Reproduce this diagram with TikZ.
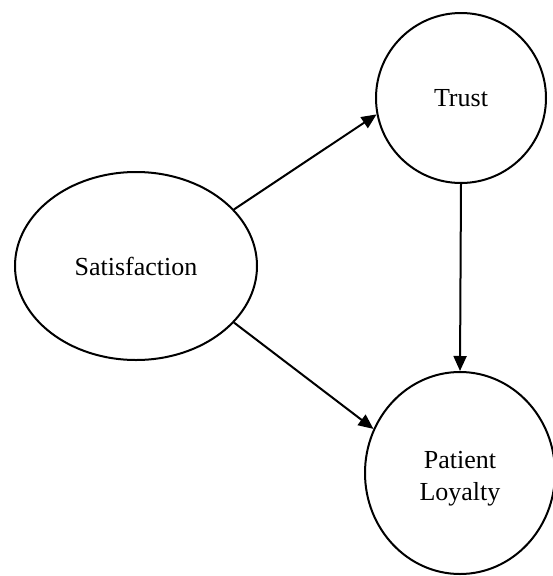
\documentclass[tikz,border=0pt]{standalone}
\usepackage{fontspec}
\setmainfont{Liberation Serif}
\usetikzlibrary{shapes.geometric,arrows.meta}
\begin{document}
\begin{tikzpicture}[x=1pt,y=-1pt,
  construct/.style={draw=black,line width=2pt,ellipse,inner sep=0pt,
    font=\fontsize{26}{32}\selectfont,align=center},
  path link/.style={draw=black,line width=2pt,-{Triangle[length=15pt,width=13pt]}}]
\useasboundingbox (0,0) rectangle (552,576);
\node[construct,minimum width=242pt,minimum height=188pt] (sat) at (136,266) {Satisfaction};
\node[construct,minimum width=170pt,minimum height=170pt] (trust) at (461,98) {Trust};
% the strut lowers the two-line label a little inside the ellipse
\node[construct,minimum width=190pt,minimum height=202pt] (loyal) at (460,473)
  {\rule{0pt}{29.5pt}Patient\\Loyalty};
\draw[path link] (sat.30) -- (trust.191);
\draw[path link] (sat.-30) -- (loyal.153);
\draw[path link] (trust.south) -- (loyal.north);
\end{tikzpicture}
\end{document}
